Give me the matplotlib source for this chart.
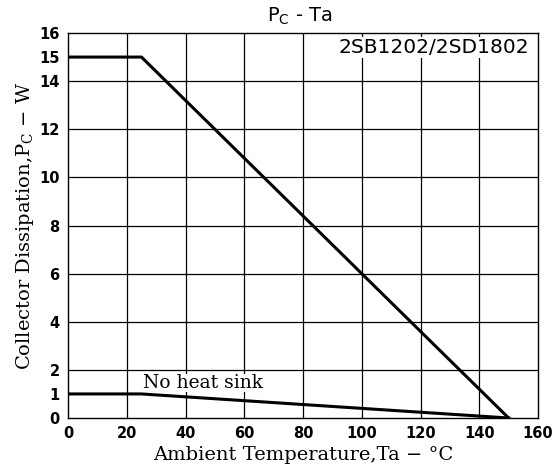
import matplotlib
matplotlib.use("Agg")
import matplotlib.pyplot as plt

ta_main = [0, 25, 150]
pc_main = [15, 15, 0]
ta_nohs = [0, 25, 150]
pc_nohs = [1, 1, 0]
xticks = [0, 20, 40, 60, 80, 100, 120, 140, 160]
yticks = [0, 1, 2, 4, 6, 8, 10, 12, 14, 15, 16]
ygrid = [2, 4, 6, 8, 10, 12, 14]

fig = plt.figure(figsize=(5.55, 4.74), dpi=100)
ax = fig.add_axes([68/555, 1 - 418/474, 470/555, 385/474])
ax.set_xlim(0, 160)
ax.set_ylim(0, 16)
for x in xticks[1:-1]:
    ax.axvline(x, color="black", lw=0.9, zorder=1)
for y in ygrid:
    ax.axhline(y, color="black", lw=0.9, zorder=1)
ax.plot(ta_main, pc_main, color="black", lw=2.2, zorder=3)
ax.plot(ta_nohs, pc_nohs, color="black", lw=2.2, zorder=3)
ax.set_xticks(xticks)
ax.set_yticks(yticks)
ax.tick_params(length=0, pad=6)
for lab in ax.get_xticklabels() + ax.get_yticklabels():
    lab.set_fontweight("bold")
    lab.set_fontsize(10.5)
    lab.set_family("DejaVu Sans")
for s in ax.spines.values():
    s.set_linewidth(1.0)
ax.text(157, 15.4, "2SB1202/2SD1802", ha="right", va="center", fontsize=14.5,
        family="DejaVu Sans", bbox=dict(facecolor="white", edgecolor="none", pad=1), zorder=4)
ax.text(25.5, 1.45, "No heat sink", ha="left", va="center", fontsize=13.5, family="DejaVu Serif",
        bbox=dict(facecolor="white", edgecolor="none", pad=0.2), zorder=4)
fig.text(300/555, 1 - 16/474, "P$_\\mathregular{C}$ - Ta", ha="center", va="center", fontsize=14, family="DejaVu Sans")
ax.set_xlabel("Ambient Temperature,Ta − °C", family="DejaVu Serif", fontsize=14, labelpad=3)
ax.set_ylabel("Collector Dissipation,P$_\\mathregular{C}$ − W", family="DejaVu Serif", fontsize=14, labelpad=2)
fig.savefig("out.png", dpi=100)
